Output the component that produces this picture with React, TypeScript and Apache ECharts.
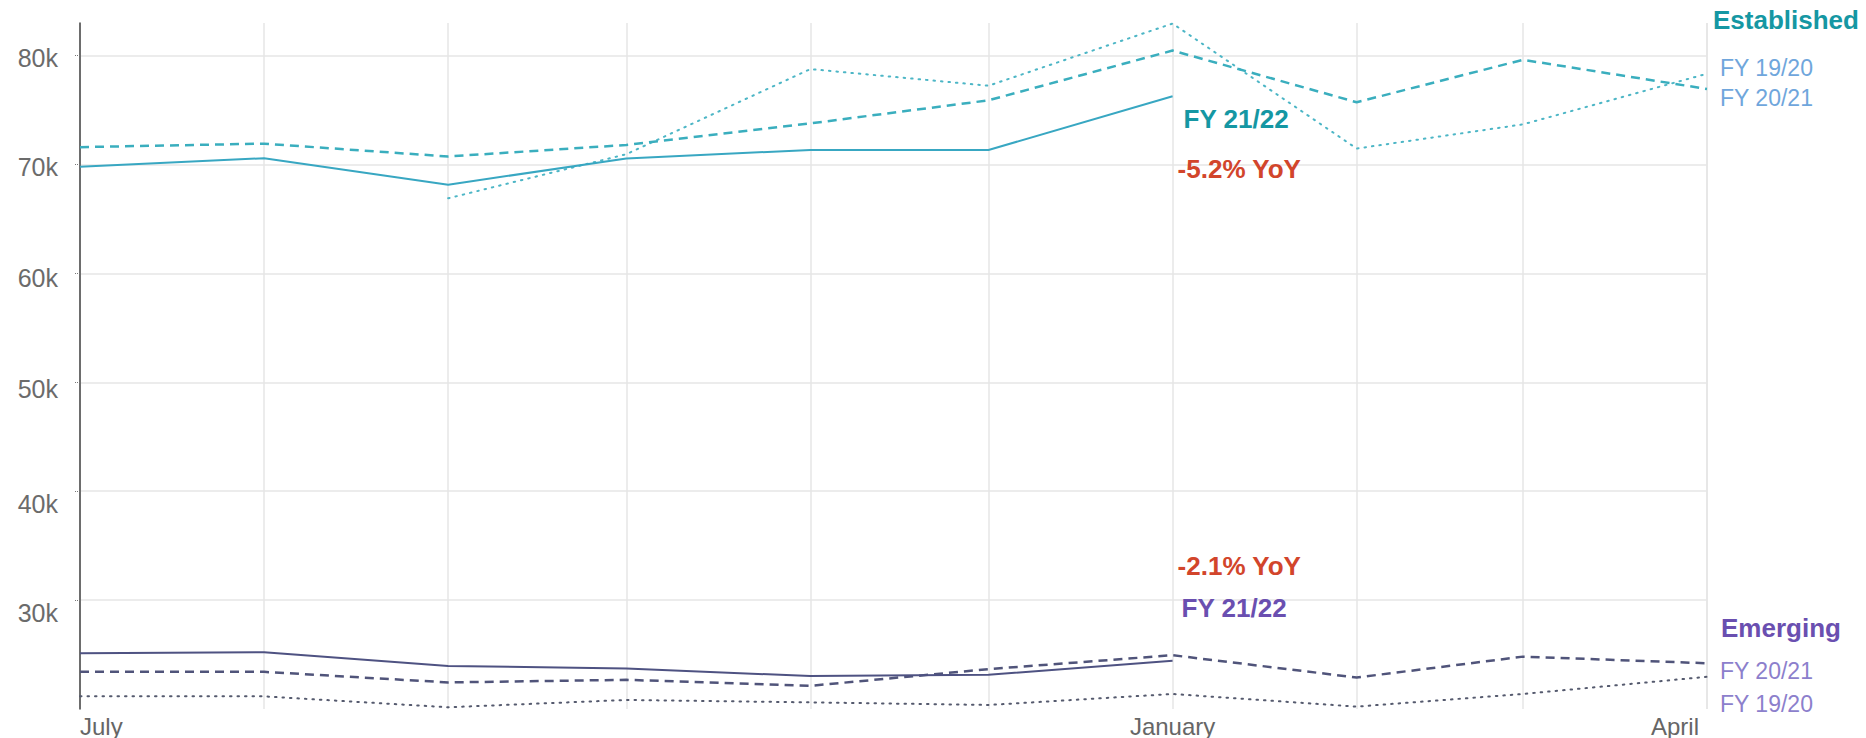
import React, { useEffect, useRef } from "react";
import * as echarts from "echarts";

const months = [
  "2021-07-01", "2021-08-01", "2021-09-01", "2021-10-01", "2021-11-01",
  "2021-12-01", "2022-01-01", "2022-02-01", "2022-03-01", "2022-04-01",
];

const estFY2122 = [69790, 70580, 68150, 70560, 71340, 71340, 76270];
const estFY2021 = [71600, 71920, 70740, 71800, 73780, 75900, 80470, 75720, 79620, 76940];
const estFY1920 = [null, null, 66900, 70950, 78770, 77240, 82950, 71470, 73690, 78340];

const emFY2122 = [25120, 25210, 23960, 23720, 23020, 23140, 24420];
const emFY2021 = [23410, 23410, 22440, 22680, 22130, 23660, 24940, 22890, 24810, 24200];
const emFY1920 = [21160, 21160, 20160, 20830, 20610, 20370, 21380, 20220, 21380, 22960];

const monthLabels: Record<number, string> = { 6: "July", 0: "January", 3: "April" };
const estYoY = "-5.2% YoY";
const emYoY = "-2.1% YoY";

const FONT = "'Liberation Sans', Arial, Helvetica, sans-serif";
const TEAL = "#1597a3";
const RED = "#d2452b";
const PURPLE = "#6a4fb0";
const LBLUE = "#6fa6dc";
const LPURPLE = "#8c7fcc";

const zip = (vals: (number | null)[]) => vals.map((v, i) => [months[i], v]);

// per-label vertical nudges (padding top) to match reference label placement
const yPad: Record<number, number> = { 80: 5, 70: 5, 60: 10, 50: 13, 40: 25, 30: 25 };

export default function App() {
  const ref = useRef<HTMLDivElement>(null);
  useEffect(() => {
    if (!ref.current) return;
    const chart = echarts.init(ref.current, null, { renderer: "svg" });
    const rich: Record<string, any> = {};
    Object.keys(yPad).forEach((k) => {
      rich["o" + k] = {
        padding: [yPad[+k], 0, 0, 0],
        fontSize: 25,
        color: "#6b6b6b",
        fontFamily: FONT,
      };
    });
    const fyLabel = (text: string, color: string, dx: number, dy: number) => ({
      show: true,
      formatter: text,
      color,
      fontSize: 23,
      fontFamily: FONT,
      distance: 0,
      offset: [dx, dy],
    });
    const xRich = {
      m: { fontSize: 24, color: "#666666", fontFamily: FONT },
      r: { fontSize: 24, color: "#666666", fontFamily: FONT, padding: [0, 8, 0, 0] },
    };
    chart.setOption({
      animation: false,
      backgroundColor: "#ffffff",
      textStyle: { fontFamily: FONT },
      title: [
        {
          text: "Established",
          left: 1713,
          top: 7,
          padding: 0,
          textStyle: { color: TEAL, fontSize: 26, fontWeight: "bold", fontFamily: FONT },
        },
        {
          text: "Emerging",
          left: 1721,
          top: 615,
          padding: 0,
          textStyle: { color: PURPLE, fontSize: 26, fontWeight: "bold", fontFamily: FONT },
        },
      ],
      grid: { left: 80, right: 159, top: 23, bottom: 26, containLabel: false },
      xAxis: {
        type: "time",
        min: months[0],
        max: months[months.length - 1],
        splitNumber: 9,
        axisLine: { show: false },
        axisTick: { show: false },
        splitLine: { show: true, lineStyle: { color: "#e6e6e6", width: 1.5 } },
        axisLabel: {
          show: true,
          fontSize: 24,
          color: "#666666",
          fontFamily: FONT,
          margin: 5,
          alignMinLabel: "left",
          alignMaxLabel: "right",
          showMinLabel: true,
          showMaxLabel: true,
          hideOverlap: false,
          rich: xRich,
          formatter: (v: number) => {
            const d = new Date(v);
            if (d.getDate() !== 1) return "";
            const name = monthLabels[d.getMonth()];
            if (!name) return "";
            return d.getMonth() === 3 ? `{r|${name}}` : `{m|${name}}`;
          },
        },
      },
      yAxis: {
        type: "value",
        min: 20000,
        max: 83000,
        interval: 10000,
        axisLine: { show: true, lineStyle: { color: "#444444", width: 1.5 } },
        axisTick: { show: true, length: 5, lineStyle: { color: "#777", type: "dotted", width: 1 } },
        splitLine: {
          show: true,
          showMinLine: false,
          showMaxLine: false,
          lineStyle: { color: "#e6e6e6", width: 1.5 },
        },
        axisLabel: {
          showMinLabel: false,
          showMaxLabel: false,
          margin: 22,
          formatter: (v: number) => {
            const k = Math.round(v / 1000);
            return `{o${k}|${k}k}`;
          },
          rich,
        },
      },
      series: [
        {
          name: "Established FY 19/20",
          type: "line",
          data: zip(estFY1920),
          showSymbol: false,
          symbol: "none",
          lineStyle: { color: "#4db6c6", width: 2, type: [1.5, 6], cap: "round" },
          endLabel: fyLabel("FY 19/20", LBLUE, 13, -6),
          z: 2,
        },
        {
          name: "Established FY 20/21",
          type: "line",
          data: zip(estFY2021),
          showSymbol: false,
          symbol: "none",
          lineStyle: { color: "#3aaebe", width: 2.5, type: [9, 6] },
          endLabel: fyLabel("FY 20/21", LBLUE, 13, 9),
          z: 3,
        },
        {
          name: "Established FY 21/22",
          type: "line",
          data: zip(estFY2122),
          showSymbol: false,
          symbol: "none",
          lineStyle: { color: "#38a7c2", width: 2 },
          endLabel: {
            show: true,
            distance: 0,
            offset: [5, 48],
            formatter: `{a|FY 21/22}\n{b|${estYoY}}`,
            rich: {
              a: { fontSize: 26, fontWeight: "bold", color: TEAL, lineHeight: 50, padding: [0, 0, 0, 6], fontFamily: FONT },
              b: { fontSize: 26, fontWeight: "bold", color: RED, lineHeight: 50, fontFamily: FONT },
            },
          },
          z: 4,
        },
        {
          name: "Emerging FY 19/20",
          type: "line",
          data: zip(emFY1920),
          showSymbol: false,
          symbol: "none",
          lineStyle: { color: "#555a6e", width: 2, type: [1.5, 6], cap: "round" },
          endLabel: fyLabel("FY 19/20", LPURPLE, 13, 27),
          z: 2,
        },
        {
          name: "Emerging FY 20/21",
          type: "line",
          data: zip(emFY2021),
          showSymbol: false,
          symbol: "none",
          lineStyle: { color: "#50547a", width: 2.5, type: [9, 6] },
          endLabel: fyLabel("FY 20/21", LPURPLE, 13, 8),
          z: 3,
        },
        {
          name: "Emerging FY 21/22",
          type: "line",
          data: zip(emFY2122),
          showSymbol: false,
          symbol: "none",
          lineStyle: { color: "#4e5282", width: 2 },
          endLabel: {
            show: true,
            distance: 0,
            offset: [5, -74],
            formatter: `{b|${emYoY}}\n{a|FY 21/22}`,
            rich: {
              a: { fontSize: 26, fontWeight: "bold", color: PURPLE, lineHeight: 42, padding: [0, 0, 0, 4], fontFamily: FONT },
              b: { fontSize: 26, fontWeight: "bold", color: RED, lineHeight: 42, fontFamily: FONT },
            },
          },
          z: 4,
        },
      ],
    });
    return () => chart.dispose();
  }, []);
  return (
    <div
      ref={ref}
      style={{ position: "absolute", left: 0, top: 0, width: 1866, height: 738, background: "#fff" }}
    />
  );
}
